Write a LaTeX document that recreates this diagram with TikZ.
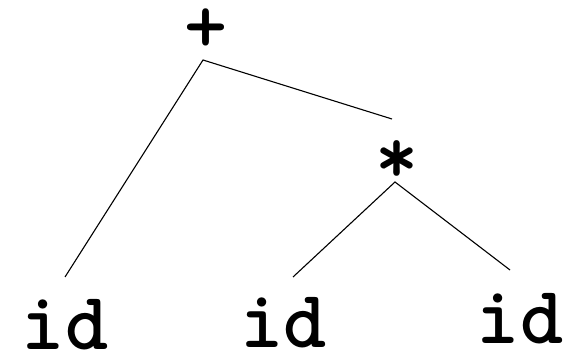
\documentclass[tikz,border=0pt]{standalone}
\usetikzlibrary{positioning}

\begin{document}
\begin{tikzpicture}[x=1pt, y=-1pt,
    every node/.style={font=\ttfamily\bfseries\fontsize{82}{82}\selectfont, inner sep=0pt, anchor=base},
    branch/.style={line width=1.1pt}]
  \useasboundingbox (0,0) rectangle (569,352);
  % operators
  \node (plus) at (206,53) {+};
  \node (times) at (397,184) {*};
  % leaves
  \node (idA) at (65,349) {id};
  \node (idB) at (283.5,347) {id};
  \node (idC) at (520,343) {id};
  % branch ends
  \coordinate (plusFoot) at (203,60);
  \coordinate (plusL) at (65,277);
  \coordinate (plusR) at (392,119);
  \coordinate (timesFoot) at (395,182);
  \coordinate (timesL) at (293,277);
  \coordinate (timesR) at (510,270);
  % branches
  \draw[branch] (plusL) -- (plusFoot) -- (plusR);
  \draw[branch] (timesL) -- (timesFoot) -- (timesR);
\end{tikzpicture}
\end{document}
